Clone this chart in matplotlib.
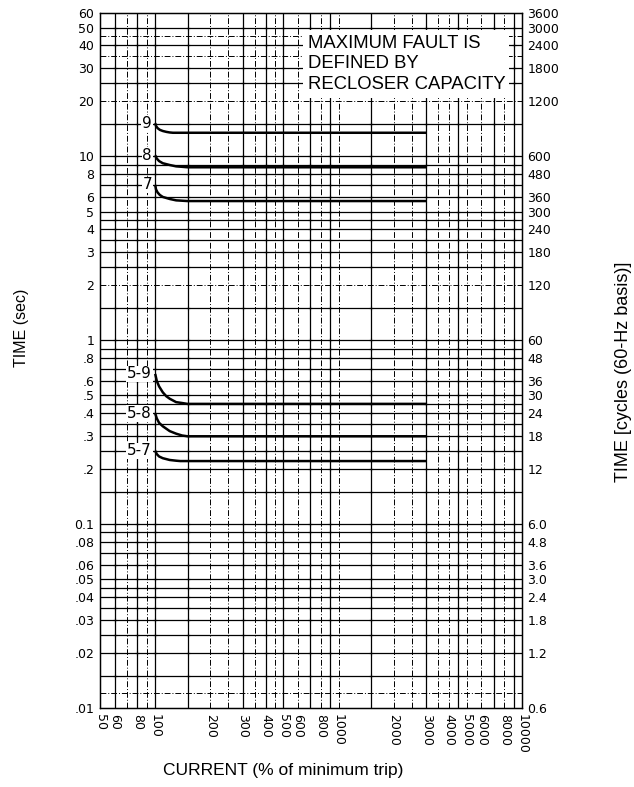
import matplotlib
matplotlib.use("Agg")
import matplotlib.pyplot as plt
import numpy as np

plt.rcParams['font.family'] = ['Liberation Sans', 'DejaVu Sans']

# ---- data ----
x_ticks = [50, 60, 80, 100, 200, 300, 400, 500, 600, 800, 1000, 2000, 3000, 4000, 5000, 6000, 8000, 10000]
x_tick_labels = [str(v) for v in x_ticks]
y_ticks = [60, 50, 40, 30, 20, 10, 8, 6, 5, 4, 3, 2, 1, 0.8, 0.6, 0.5, 0.4, 0.3, 0.2,
           0.1, 0.08, 0.06, 0.05, 0.04, 0.03, 0.02, 0.01]
y_tick_labels = ['60', '50', '40', '30', '20', '10', '8', '6', '5', '4', '3', '2', '1',
                 '.8', '.6', '.5', '.4', '.3', '.2', '0.1', '.08', '.06', '.05', '.04', '.03', '.02', '.01']
cyc_ticks = [3600, 3000, 2400, 1800, 1200, 600, 480, 360, 300, 240, 180, 120, 60, 48, 36, 30, 24,
             18, 12, 6.0, 4.8, 3.6, 3.0, 2.4, 1.8, 1.2, 0.6]
cyc_tick_labels = ['3600', '3000', '2400', '1800', '1200', '600', '480', '360', '300', '240', '180',
                   '120', '60', '48', '36', '30', '24', '18', '12', '6.0', '4.8', '3.6', '3.0', '2.4',
                   '1.8', '1.2', '0.6']

curve_names = ['9', '8', '7', '5-9', '5-8', '5-7']
curve_x = [
    [100, 101, 103, 106, 110, 115, 120, 125, 3000],
    [100, 102, 105, 110, 120, 130, 140, 150, 3000],
    [100, 101, 103, 106, 110, 120, 130, 150, 3000],
    [100, 102, 105, 110, 115, 120, 130, 140, 150, 3000],
    [100, 102, 105, 110, 120, 130, 140, 150, 3000],
    [100, 102, 105, 110, 120, 130, 137, 3000],
]
curve_y = [
    [15.1, 14.6, 14.2, 13.9, 13.7, 13.55, 13.45, 13.4, 13.4],
    [10.1, 9.7, 9.4, 9.15, 8.95, 8.8, 8.75, 8.7, 8.7],
    [6.97, 6.6, 6.35, 6.15, 6.0, 5.85, 5.75, 5.7, 5.7],
    [0.655, 0.6, 0.56, 0.52, 0.495, 0.48, 0.46, 0.455, 0.45, 0.45],
    [0.40, 0.375, 0.355, 0.34, 0.32, 0.31, 0.303, 0.30, 0.30],
    [0.25, 0.24, 0.233, 0.228, 0.223, 0.221, 0.22, 0.22],
]

# grid lines of the log paper
vgrid_solid = [60, 80, 100, 150, 300, 400, 500, 700, 900, 1500, 3000, 4500, 7000, 9000]
vgrid_dashed = [70, 90, 200, 250, 350, 450, 600, 800, 1000, 2000, 2500, 3500, 4000, 5000, 6000, 8000]
hgrid_solid = [50, 40, 30, 25, 15, 10, 9, 8, 7, 6, 5, 4.5, 4, 3.5, 3, 2.5, 1.5, 1, 0.9, 0.8, 0.7,
               0.6, 0.5, 0.45, 0.4, 0.35, 0.3, 0.25, 0.2, 0.15,
               0.1, 0.09, 0.08, 0.07, 0.06, 0.05, 0.045, 0.04, 0.035, 0.03, 0.025, 0.02, 0.015]
hgrid_dashed = [45, 35, 20, 2, 0.012]

# ---- figure ----
W, H = 634, 787
fig = plt.figure(figsize=(W / 100, H / 100), dpi=100)
ax = fig.add_axes([100 / W, 1 - 708 / H, 422 / W, 695 / H])
ax.set_xscale('log')
ax.set_yscale('log')
ax.set_xlim(50, 10000)
ax.set_ylim(0.01, 60)

for v in vgrid_solid:
    ax.axvline(v, color='black', lw=0.9, zorder=1)
for v in vgrid_dashed:
    ax.axvline(v, color='black', lw=0.7, ls=(0, (6, 2, 1, 2)), zorder=1)
for v in hgrid_solid:
    ax.axhline(v, color='black', lw=0.9, zorder=1)
for v in hgrid_dashed:
    ax.axhline(v, color='black', lw=0.7, ls=(0, (6, 2, 1, 2)), zorder=1)

# intersection "+" dots
gx, gy = np.meshgrid(vgrid_solid, hgrid_solid)
ax.scatter(gx.ravel(), gy.ravel(), marker='+', s=12, color='black', lw=0.8, zorder=1.5)

for name, xs, ys in zip(curve_names, curve_x, curve_y):
    ax.plot(xs, ys, color='black', lw=1.8, solid_capstyle='butt', zorder=3)
    ax.text(96, ys[0], name, ha='right', va='center', fontsize=11, family=['DejaVu Sans'],
            bbox=dict(facecolor='white', edgecolor='none', pad=0.5), zorder=4)

ax.text(0.492, 0.969, 'MAXIMUM FAULT IS\nDEFINED BY\nRECLOSER CAPACITY', transform=ax.transAxes,
        ha='left', va='top', fontsize=13.3, linespacing=1.3,
        bbox=dict(facecolor='white', edgecolor='none', pad=3), zorder=5)

tick_font = dict(fontsize=9, family=['DejaVu Sans'])
ax.set_xticks(x_ticks)
ax.set_xticklabels(x_tick_labels, rotation=-90, **tick_font)
ax.set_yticks(y_ticks)
ax.set_yticklabels(y_tick_labels, **tick_font)
ax.minorticks_off()
ax.tick_params(axis='both', length=0, pad=4)
for s in ax.spines.values():
    s.set_linewidth(1.0)

ax2 = ax.twinx()
ax2.set_yscale('log')
ax2.set_ylim(0.6, 3600)
ax2.set_yticks(cyc_ticks)
ax2.set_yticklabels(cyc_tick_labels, **tick_font)
ax2.minorticks_off()
ax2.tick_params(axis='y', length=0, pad=4)

fig.text(22 / W, 1 - 328 / H, 'TIME (sec)', rotation=90, ha='center', va='center', fontsize=11.5)
fig.text(624 / W, 1 - 372 / H, 'TIME [cycles (60-Hz basis)]', rotation=90, ha='center', va='center', fontsize=13)
fig.text(283 / W, 1 - 770 / H, 'CURRENT (% of minimum trip)', ha='center', va='center', fontsize=12.5)

fig.savefig('out.png', dpi=100)
